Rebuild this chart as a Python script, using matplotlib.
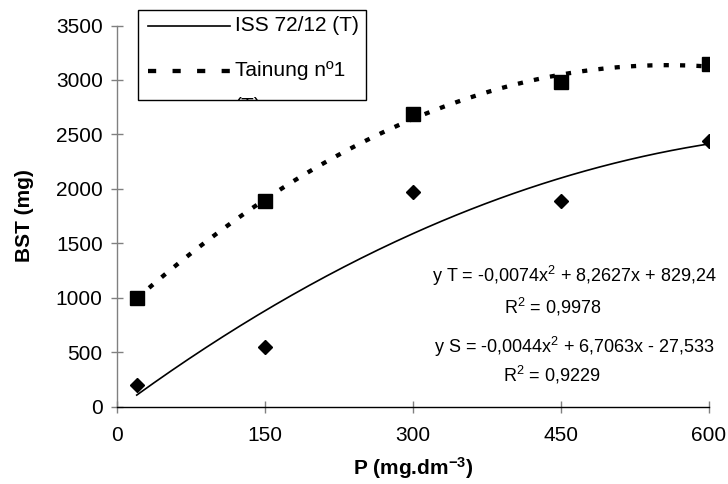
import numpy as np
import matplotlib
matplotlib.use("Agg")
import matplotlib.pyplot as plt
from matplotlib.patches import Rectangle
from matplotlib.lines import Line2D

plt.rcParams['font.family'] = ['Liberation Sans', 'DejaVu Sans']
plt.rcParams['mathtext.fontset'] = 'custom'
plt.rcParams['mathtext.rm'] = 'Liberation Sans'
plt.rcParams['mathtext.it'] = 'Liberation Sans'
plt.rcParams['mathtext.bf'] = 'Liberation Sans:bold'

# ---- data ----
p_doses = [20, 150, 300, 450, 600]
bst_T = [1000, 1890, 2690, 2980, 3150]   # squares (Tainung nº1)
bst_S = [200, 550, 1970, 1890, 2440]     # diamonds (ISS 72/12)
coef_T = [-0.0074, 8.2627, 829.24]
coef_S = [-0.0044, 6.7063, -27.533]
legend_labels = ["ISS 72/12 (T)", "Tainung nº1\n(T)"]
eq_T = "y T = -0,0074x$^2$ + 8,2627x + 829,24"
r2_T = "R$^2$ = 0,9978"
eq_S = "y S = -0,0044x$^2$ + 6,7063x - 27,533"
r2_S = "R$^2$ = 0,9229"
x_ticks = [0, 150, 300, 450, 600]
y_ticks = [0, 500, 1000, 1500, 2000, 2500, 3000, 3500]

W, H = 728, 484
fig = plt.figure(figsize=(W / 100, H / 100), dpi=100)
ax = fig.add_axes([117 / W, 1 - 406.5 / H, (709 - 117) / W, (406.5 - 25.5) / H])

xs = np.linspace(min(p_doses), max(p_doses), 200)
ax.plot(xs, np.polyval(coef_T, xs), color='black', lw=3.1,
        linestyle=(0, (1.2, 2.6)), dash_capstyle='butt', zorder=2)
ax.plot(xs, np.polyval(coef_S, xs), color='black', lw=1.2, zorder=2)
ax.plot(p_doses, bst_T, linestyle='none', marker='s', markersize=10,
        color='black', zorder=3)
ax.plot(p_doses, bst_S, linestyle='none', marker='D', markersize=6.8,
        color='black', zorder=3)

ax.set_xlim(0, 600)
ax.set_ylim(0, 3500)
ax.set_xticks(x_ticks)
ax.set_yticks(y_ticks)
ax.set_xticklabels([str(v) for v in x_ticks])
ax.set_yticklabels([str(v) for v in y_ticks])
for s in ['top', 'right']:
    ax.spines[s].set_visible(False)
ax.spines['left'].set_color('#808080')
ax.spines['bottom'].set_color('black')
ax.spines['left'].set_linewidth(1.0)
ax.spines['bottom'].set_linewidth(1.0)
ax.tick_params(axis='both', direction='inout', length=8.6, width=1.0,
               color='#808080', labelsize=15)
ax.tick_params(axis='y', pad=6)
ax.tick_params(axis='x', pad=10)
ax.patch.set_alpha(0)

fig.text(25 / W, 1 - 216 / H, "BST (mg)", rotation=90, fontsize=15,
         fontweight='bold', ha='center', va='center')
fig.text(413 / W, 1 - 468 / H, r"P (mg.dm$^{\mathbf{-3}}$)", fontsize=15,
         fontweight='bold', ha='center', va='center')

# equations
fig.text(717 / W, 1 - 281.5 / H, eq_T, fontsize=13, ha='right', va='baseline')
fig.text(553 / W, 1 - 313 / H, r2_T, fontsize=13, ha='center', va='baseline')
fig.text(715 / W, 1 - 353 / H, eq_S, fontsize=13, ha='right', va='baseline')
fig.text(552 / W, 1 - 381.5 / H, r2_S, fontsize=13, ha='center', va='baseline')

# legend box (manual, text clipped like the original)
bx0, by0, bx1, by1 = 138, 10, 366, 100
rect = Rectangle((bx0 / W, 1 - by1 / H), (bx1 - bx0) / W, (by1 - by0) / H,
                 transform=fig.transFigure, facecolor='white',
                 edgecolor='black', linewidth=1.0, zorder=5)
fig.add_artist(rect)
fig.add_artist(Line2D([148 / W, 230 / W], [1 - 26 / H, 1 - 26 / H],
                      transform=fig.transFigure, color='black', lw=1.2, zorder=6))
fig.add_artist(Line2D([148 / W, 230 / W], [1 - 71 / H, 1 - 71 / H],
                      transform=fig.transFigure, color='black', lw=3.1,
                      linestyle=(0, (1.9, 3.8)), dash_capstyle='butt', zorder=6))
t1 = fig.text(235 / W, 1 - 31 / H, legend_labels[0], fontsize=15,
              ha='left', va='baseline', zorder=7)
lines2 = legend_labels[1].split("\n")
t2 = fig.text(235 / W, 1 - 76.5 / H, lines2[0], fontsize=15,
              ha='left', va='baseline', zorder=7)
t3 = fig.text(235 / W, 1 - 112 / H, lines2[1], fontsize=15,
              ha='left', va='baseline', zorder=7)
for t in (t1, t2, t3):
    t.set_clip_path(rect)
    t.set_clip_on(True)

fig.savefig("out.png", dpi=100)
